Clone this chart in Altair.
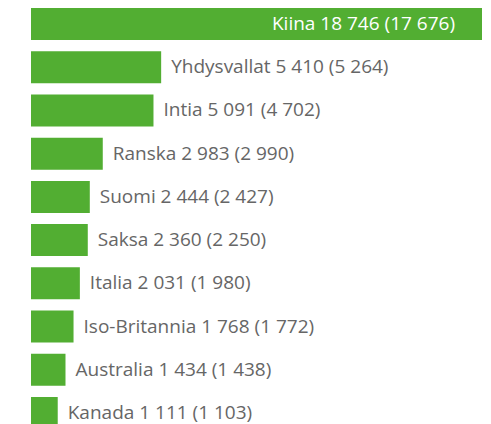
import altair as alt
import pandas as pd

countries = ["Kiina", "Yhdysvallat", "Intia", "Ranska", "Suomi", "Saksa", "Italia",
             "Iso-Britannia", "Australia", "Kanada"]
values = [18746, 5410, 5091, 2983, 2444, 2360, 2031, 1768, 1434, 1111]
previous = [17676, 5264, 4702, 2990, 2427, 2250, 1980, 1772, 1438, 1103]


def fmt(n):
    return f"{n:,}".replace(",", " ")


df = pd.DataFrame({"country": countries, "value": values, "prev": previous})
df["label"] = [f"{c} {fmt(v)} ({fmt(p)})" for c, v, p in zip(countries, values, previous)]
df["inside"] = df["value"] == max(values)

GREEN = "#52ae32"
FONT = "Open Sans"
SIZE = 19

y = alt.Y("country:N", sort=countries, axis=None,
          scale=alt.Scale(paddingInner=0.26, paddingOuter=0))
x = alt.X("value:Q", axis=None, scale=alt.Scale(domain=[0, max(values)], nice=False, zero=True))

base = alt.Chart(df)

bars = base.mark_bar(color=GREEN).encode(x=x, y=y)

outside = base.transform_filter("!datum.inside").mark_text(
    align="left", baseline="middle", dx=10, font=FONT, fontSize=SIZE, color="#666666"
).encode(x=x, y=y, text="label:N")

inside = base.transform_filter("datum.inside").mark_text(
    align="right", baseline="middle", dx=-27, font=FONT, fontSize=SIZE, color="#ffffff"
).encode(x=x, y=y, text="label:N")

chart = alt.layer(bars, outside, inside).properties(
    width=451, height=421,
    padding={"left": 23, "top": 0, "right": 0, "bottom": 0},
    autosize=alt.AutoSizeParams(type="none"),
).configure_view(stroke=None)

chart.save("out.html", embed_options={"renderer": "svg", "actions": False})
